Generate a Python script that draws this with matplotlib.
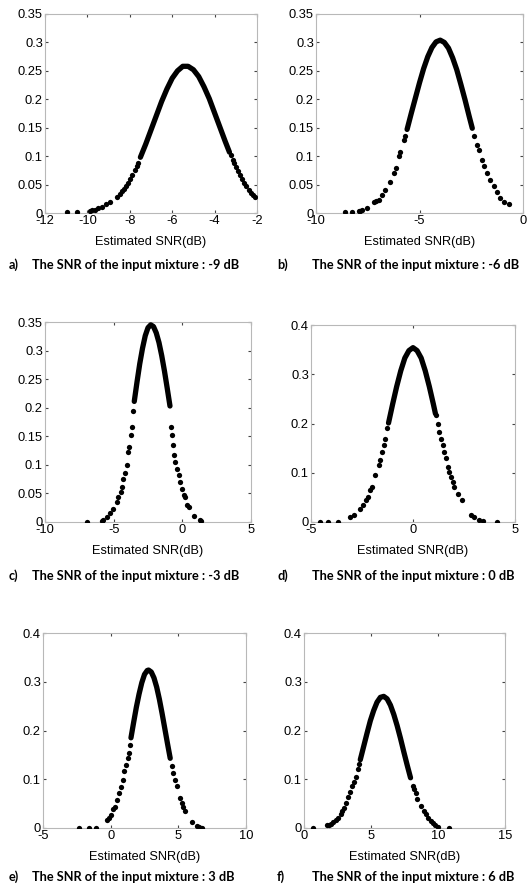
import numpy as np
import matplotlib
matplotlib.use("Agg")
import matplotlib.pyplot as plt
from matplotlib.ticker import FuncFormatter

plt.rcParams['font.family'] = ['Liberation Sans', 'DejaVu Sans']

# --- panel a: input mixture -9 dB ---
a_core_x = [-7.5, -7.25, -7.0, -6.75, -6.5, -6.25, -6.0, -5.75, -5.5, -5.25, -5.0,
            -4.75, -4.5, -4.25, -4.0, -3.75, -3.5, -3.3]
a_core_y = [0.098, 0.121, 0.146, 0.171, 0.196, 0.218, 0.237, 0.250, 0.258, 0.258, 0.252,
            0.240, 0.222, 0.201, 0.176, 0.151, 0.126, 0.107]
a_dot_x = [-10.98, -10.47, -9.9, -9.8, -9.62, -9.48, -9.32, -9.1, -8.93, -8.61, -8.45, -8.38,
           -8.27, -8.17, -8.07, -7.98, -7.88, -7.75, -7.65, -7.59,
           -3.25, -3.15, -3.1, -3.0, -2.9, -2.8, -2.7, -2.6, -2.5, -2.4, -2.3, -2.2, -2.1]
a_dot_y = [0.001, 0.001, 0.004, 0.005, 0.006, 0.008, 0.011, 0.015, 0.019, 0.028, 0.034, 0.038,
           0.043, 0.047, 0.053, 0.059, 0.066, 0.076, 0.083, 0.088,
           0.102, 0.094, 0.088, 0.081, 0.073, 0.066, 0.059, 0.053, 0.047, 0.041, 0.036, 0.032, 0.029]

# --- panel b: input mixture -6 dB ---
b_core_x = [-5.6, -5.4, -5.2, -5.0, -4.8, -4.6, -4.4, -4.2, -4.0, -3.8, -3.6, -3.4,
            -3.2, -3.0, -2.8, -2.6, -2.45]
b_core_y = [0.147, 0.175, 0.202, 0.229, 0.254, 0.275, 0.291, 0.301, 0.304, 0.300, 0.290, 0.273,
            0.252, 0.226, 0.199, 0.170, 0.149]
b_dot_x = [-8.62, -8.26, -7.94, -7.86, -7.78, -7.54, -7.21, -7.1, -6.97, -6.81, -6.65, -6.44,
           -6.25, -6.14, -6.01, -5.96, -5.76, -5.68,
           -2.35, -2.22, -2.14, -1.98, -1.87, -1.74, -1.58, -1.42, -1.26, -1.1, -0.93, -0.69]
b_dot_y = [0.001, 0.001, 0.004, 0.004, 0.005, 0.008, 0.019, 0.021, 0.023, 0.032, 0.041, 0.054,
           0.070, 0.079, 0.100, 0.107, 0.129, 0.135,
           0.135, 0.120, 0.111, 0.094, 0.082, 0.070, 0.058, 0.047, 0.037, 0.026, 0.020, 0.015]

# --- panel c: input mixture -3 dB ---
c_core_x = [-3.5, -3.3, -3.1, -2.9, -2.7, -2.5, -2.3, -2.1, -1.9, -1.7, -1.5, -1.3, -1.1, -0.9]
c_core_y = [0.211, 0.245, 0.277, 0.304, 0.326, 0.340, 0.345, 0.342, 0.331, 0.314, 0.291,
            0.264, 0.234, 0.203]
c_dot_x = [-6.91, -5.87, -5.75, -5.5, -5.26, -5.02, -4.77, -4.65, -4.48, -4.41, -4.29, -4.16,
           -4.0, -3.97, -3.85, -3.73, -3.63, -3.56,
           -0.83, -0.76, -0.69, -0.59, -0.52, -0.40, -0.27, -0.15, -0.03, 0.09, 0.21, 0.33,
           0.46, 0.82, 1.26, 1.35]
c_dot_y = [0.0, 0.001, 0.004, 0.009, 0.015, 0.023, 0.035, 0.044, 0.053, 0.061, 0.076, 0.085,
           0.099, 0.123, 0.131, 0.152, 0.166, 0.195,
           0.166, 0.152, 0.134, 0.117, 0.105, 0.093, 0.082, 0.070, 0.058, 0.047, 0.044, 0.029,
           0.026, 0.011, 0.003, 0.001]

# --- panel d: input mixture 0 dB ---
d_core_x = [-1.2, -1.0, -0.8, -0.6, -0.4, -0.2, 0.0, 0.2, 0.4, 0.6, 0.8, 1.0, 1.1]
d_core_y = [0.201, 0.239, 0.275, 0.307, 0.333, 0.348, 0.354, 0.348, 0.333, 0.307, 0.275,
            0.239, 0.220]
d_dot_x = [-4.54, -4.18, -3.66, -3.07, -2.91, -2.58, -2.47, -2.30, -2.22, -2.09, -2.03, -1.85,
           -1.68, -1.60, -1.54, -1.44, -1.37, -1.27,
           1.13, 1.21, 1.29, 1.37, 1.45, 1.54, 1.62, 1.70, 1.78, 1.86, 1.94, 2.03, 2.19, 2.39,
           2.84, 3.01, 3.25, 3.42, 4.12]
d_dot_y = [0.0, 0.0, 0.0, 0.010, 0.014, 0.027, 0.034, 0.044, 0.051, 0.064, 0.071, 0.096,
           0.115, 0.125, 0.142, 0.156, 0.169, 0.190,
           0.217, 0.200, 0.183, 0.169, 0.156, 0.142, 0.130, 0.112, 0.102, 0.092, 0.081, 0.071,
           0.056, 0.044, 0.014, 0.010, 0.005, 0.003, 0.0]

# --- panel e: input mixture 3 dB ---
e_core_x = [1.5, 1.7, 1.9, 2.1, 2.3, 2.5, 2.7, 2.8, 3.0, 3.2, 3.4, 3.6, 3.8, 4.0, 4.2, 4.4]
e_core_y = [0.185, 0.217, 0.248, 0.275, 0.298, 0.315, 0.323, 0.324, 0.320, 0.308, 0.289,
            0.264, 0.235, 0.204, 0.173, 0.143]
e_dot_x = [-2.33, -1.59, -1.12, -0.26, -0.13, 0.02, 0.19, 0.31, 0.49, 0.63, 0.73, 0.88, 1.0,
           1.13, 1.25, 1.35, 1.42,
           4.51, 4.64, 4.76, 4.88, 5.13, 5.25, 5.38, 5.5, 6.0, 6.37, 6.56, 6.76]
e_dot_y = [0.001, 0.001, 0.001, 0.016, 0.021, 0.027, 0.038, 0.044, 0.058, 0.072, 0.085, 0.099,
           0.116, 0.130, 0.144, 0.154, 0.171,
           0.128, 0.112, 0.098, 0.086, 0.062, 0.052, 0.043, 0.035, 0.012, 0.005, 0.002, 0.001]

# --- panel f: input mixture 6 dB ---
f_core_x = [4.2, 4.45, 4.7, 4.95, 5.2, 5.45, 5.7, 5.95, 6.2, 6.45, 6.7, 6.95, 7.2, 7.45, 7.7, 7.95]
f_core_y = [0.140, 0.167, 0.194, 0.220, 0.241, 0.258, 0.268, 0.270, 0.265, 0.252, 0.233,
            0.210, 0.184, 0.156, 0.129, 0.103]
f_dot_x = [0.70, 1.74, 1.87, 1.99, 2.19, 2.37, 2.54, 2.74, 2.87, 2.99, 3.16, 3.29, 3.44, 3.61,
           3.74, 3.86, 4.04, 4.11,
           8.10, 8.22, 8.35, 8.47, 8.72, 8.92, 9.10, 9.27, 9.47, 9.59, 9.77, 9.97, 10.84]
f_dot_y = [0.001, 0.006, 0.007, 0.009, 0.013, 0.017, 0.021, 0.028, 0.035, 0.042, 0.052, 0.063,
           0.073, 0.087, 0.094, 0.104, 0.122, 0.132,
           0.087, 0.080, 0.072, 0.059, 0.045, 0.035, 0.028, 0.021, 0.014, 0.010, 0.007, 0.003,
           0.001]

captions = ["a)", "b)", "c)", "d)", "e)", "f)"]
mixture_snr = ["-9", "-6", "-3", "0", "3", "6"]

panels = [
    (a_core_x, a_core_y, a_dot_x, a_dot_y, (-12, -2), np.arange(-12, -1, 2), 0.35),
    (b_core_x, b_core_y, b_dot_x, b_dot_y, (-10, 0), [-10, -5, 0], 0.35),
    (c_core_x, c_core_y, c_dot_x, c_dot_y, (-10, 5), [-10, -5, 0, 5], 0.35),
    (d_core_x, d_core_y, d_dot_x, d_dot_y, (-5, 5), [-5, 0, 5], 0.4),
    (e_core_x, e_core_y, e_dot_x, e_dot_y, (-5, 10), [-5, 0, 5, 10], 0.4),
    (f_core_x, f_core_y, f_dot_x, f_dot_y, (0, 15), [0, 5, 10, 15], 0.4),
]

# axes boxes in pixels (left, top, right, bottom)
W, H = 529, 894
boxes = [(45, 14, 257, 213), (316, 14, 523, 213),
         (45, 322, 251, 522), (311, 325, 515, 522),
         (43, 633, 246, 828), (304, 633, 505, 828)]
caption_y = [265, 265, 576, 576, 877, 877]
cap_font = ['Lato', 'DejaVu Sans']

fig = plt.figure(figsize=(W / 100, H / 100), dpi=100)

for i, (cx, cy, dx, dy, xlim, xticks, ytop) in enumerate(panels):
    l, t, r, b = boxes[i]
    ax = fig.add_axes([l / W, 1 - b / H, (r - l) / W, (b - t) / H])
    ax.plot(cx, cy, '-', color='black', lw=3.8, solid_capstyle='round', zorder=3)
    ax.plot(dx, dy, 'o', color='black', ms=3.8, mew=0, zorder=3)
    ax.set_xlim(*xlim)
    ax.set_ylim(0, ytop)
    ax.set_xticks(xticks)
    if ytop == 0.35:
        ax.set_yticks(np.arange(0, 0.351, 0.05))
    else:
        ax.set_yticks(np.arange(0, 0.401, 0.1))
    ax.yaxis.set_major_formatter(FuncFormatter(lambda v, p: '%g' % round(v, 2)))
    ax.xaxis.set_major_formatter(FuncFormatter(lambda v, p: '%g' % v))
    ax.tick_params(direction='in', length=2, width=0.8, color='#444444',
                   top=True, right=True, labelsize=9.3, pad=1.5)
    for s in ax.spines.values():
        s.set_color('#b8b8b8')
        s.set_linewidth(0.8)
    ax.set_xlabel('Estimated SNR(dB)', fontsize=9.2, labelpad=6.5)

    x0 = 9 if i % 2 == 0 else 277
    x1 = 32 if i % 2 == 0 else 312
    fig.text(x0 / W, 1 - caption_y[i] / H, captions[i], fontsize=9.2,
             fontweight='bold', family=cap_font, va='center')
    fig.text(x1 / W, 1 - caption_y[i] / H,
             'The SNR of the input mixture : %s dB' % mixture_snr[i], fontsize=9.2,
             fontweight='bold', family=cap_font, va='center')

fig.savefig('out.png', dpi=100)
